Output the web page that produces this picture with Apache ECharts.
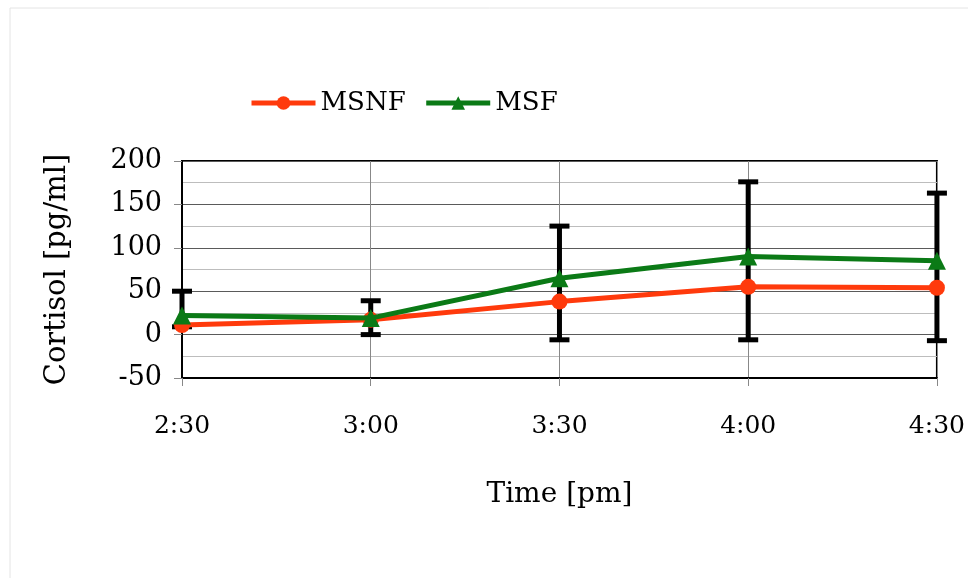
<!DOCTYPE html>
<html>
<head>
<meta charset="utf-8">
<script src="https://cdn.jsdelivr.net/npm/echarts@6/dist/echarts.min.js"></script>
<style>
  html, body { margin: 0; padding: 0; background: #fff; }
  #chart { width: 968px; height: 578px; }
</style>
</head>
<body>
<div id="chart"></div>
<script>
var times = ['2:30', '3:00', '3:30', '4:00', '4:30'];
var msnf = [11, 17, 38, 55, 54];
var msf = [22, 19, 65, 90, 85];
var errLow = [9, 0, -6, -6, -7];
var errHigh = [50, 39, 125, 176, 163];

var serif = '"DejaVu Serif", "Liberation Serif", serif';

var errData = times.map(function (t, i) { return [i, errLow[i], errHigh[i]]; });

var option = {
    backgroundColor: '#fff',
    animation: false,
    textStyle: { fontFamily: serif },
    graphic: [{
        type: 'rect',
        shape: { x: 10, y: 8, width: 980, height: 600 },
        style: { fill: 'none', stroke: '#e4e4e4', lineWidth: 1 },
        silent: true
    }],
    legend: {
        left: 244,
        top: 85,
        itemWidth: 64,
        itemHeight: 17,
        itemGap: 18,
        lineStyle: { width: 5 },
        textStyle: { fontFamily: serif, fontSize: 26, color: '#000' },
        data: ['MSNF', 'MSF']
    },
    grid: {
        left: 182,
        right: 30,
        top: 161,
        bottom: 200,
        show: true,
        borderColor: '#000',
        borderWidth: 2
    },
    xAxis: {
        type: 'category',
        data: times,
        boundaryGap: false,
        name: 'Time [pm]',
        nameLocation: 'middle',
        nameGap: 103,
        nameTextStyle: { fontFamily: serif, fontSize: 28, color: '#000' },
        axisLine: { onZero: false, lineStyle: { color: '#000', width: 2 } },
        axisTick: { show: true, length: 8, lineStyle: { color: '#888', width: 1 } },
        axisLabel: { fontFamily: serif, fontSize: 25, color: '#000', margin: 36 },
        splitLine: { show: true, lineStyle: { color: '#888', width: 1 } }
    },
    yAxis: {
        type: 'value',
        min: -50,
        max: 200,
        interval: 50,
        name: 'Cortisol [pg/ml]',
        nameLocation: 'middle',
        nameGap: 110,
        nameTextStyle: { fontFamily: serif, fontSize: 29, color: '#000' },
        axisLine: { show: true, lineStyle: { color: '#000', width: 2 } },
        axisTick: { show: true, length: 8, lineStyle: { color: '#888', width: 1 } },
        axisLabel: { fontFamily: serif, fontSize: 27, color: '#000', margin: 20 },
        splitLine: { show: true, lineStyle: { color: '#5a5a5a', width: 1 } },
        minorTick: { show: false, splitNumber: 2 },
        minorSplitLine: { show: true, lineStyle: { color: '#bdbdbd', width: 1 } }
    },
    series: [
        {
            name: 'errors',
            type: 'custom',
            z: 1,
            silent: true,
            data: errData,
            renderItem: function (params, api) {
                var x = api.value(0);
                var lo = api.coord([x, api.value(1)]);
                var hi = api.coord([x, api.value(2)]);
                var hw = 10;
                var st = { stroke: '#000', lineWidth: 5 };
                return {
                    type: 'group',
                    children: [
                        { type: 'line', shape: { x1: lo[0], y1: lo[1], x2: hi[0], y2: hi[1] }, style: st },
                        { type: 'line', shape: { x1: lo[0] - hw, y1: lo[1], x2: lo[0] + hw, y2: lo[1] }, style: st },
                        { type: 'line', shape: { x1: hi[0] - hw, y1: hi[1], x2: hi[0] + hw, y2: hi[1] }, style: st }
                    ]
                };
            }
        },
        {
            name: 'MSNF',
            type: 'line',
            z: 3,
            data: msnf,
            symbol: 'circle',
            symbolSize: 16,
            color: '#ff3a0c',
            lineStyle: { width: 5, color: '#ff3a0c' },
            itemStyle: { color: '#ff3a0c' }
        },
        {
            name: 'MSF',
            type: 'line',
            z: 4,
            data: msf,
            symbol: 'triangle',
            symbolSize: 18,
            color: '#0b7a16',
            lineStyle: { width: 5, color: '#0b7a16' },
            itemStyle: { color: '#0b7a16' }
        }
    ]
};

var chart = echarts.init(document.getElementById('chart'), null, { renderer: 'canvas' });
chart.setOption(option);
</script>
</body>
</html>
